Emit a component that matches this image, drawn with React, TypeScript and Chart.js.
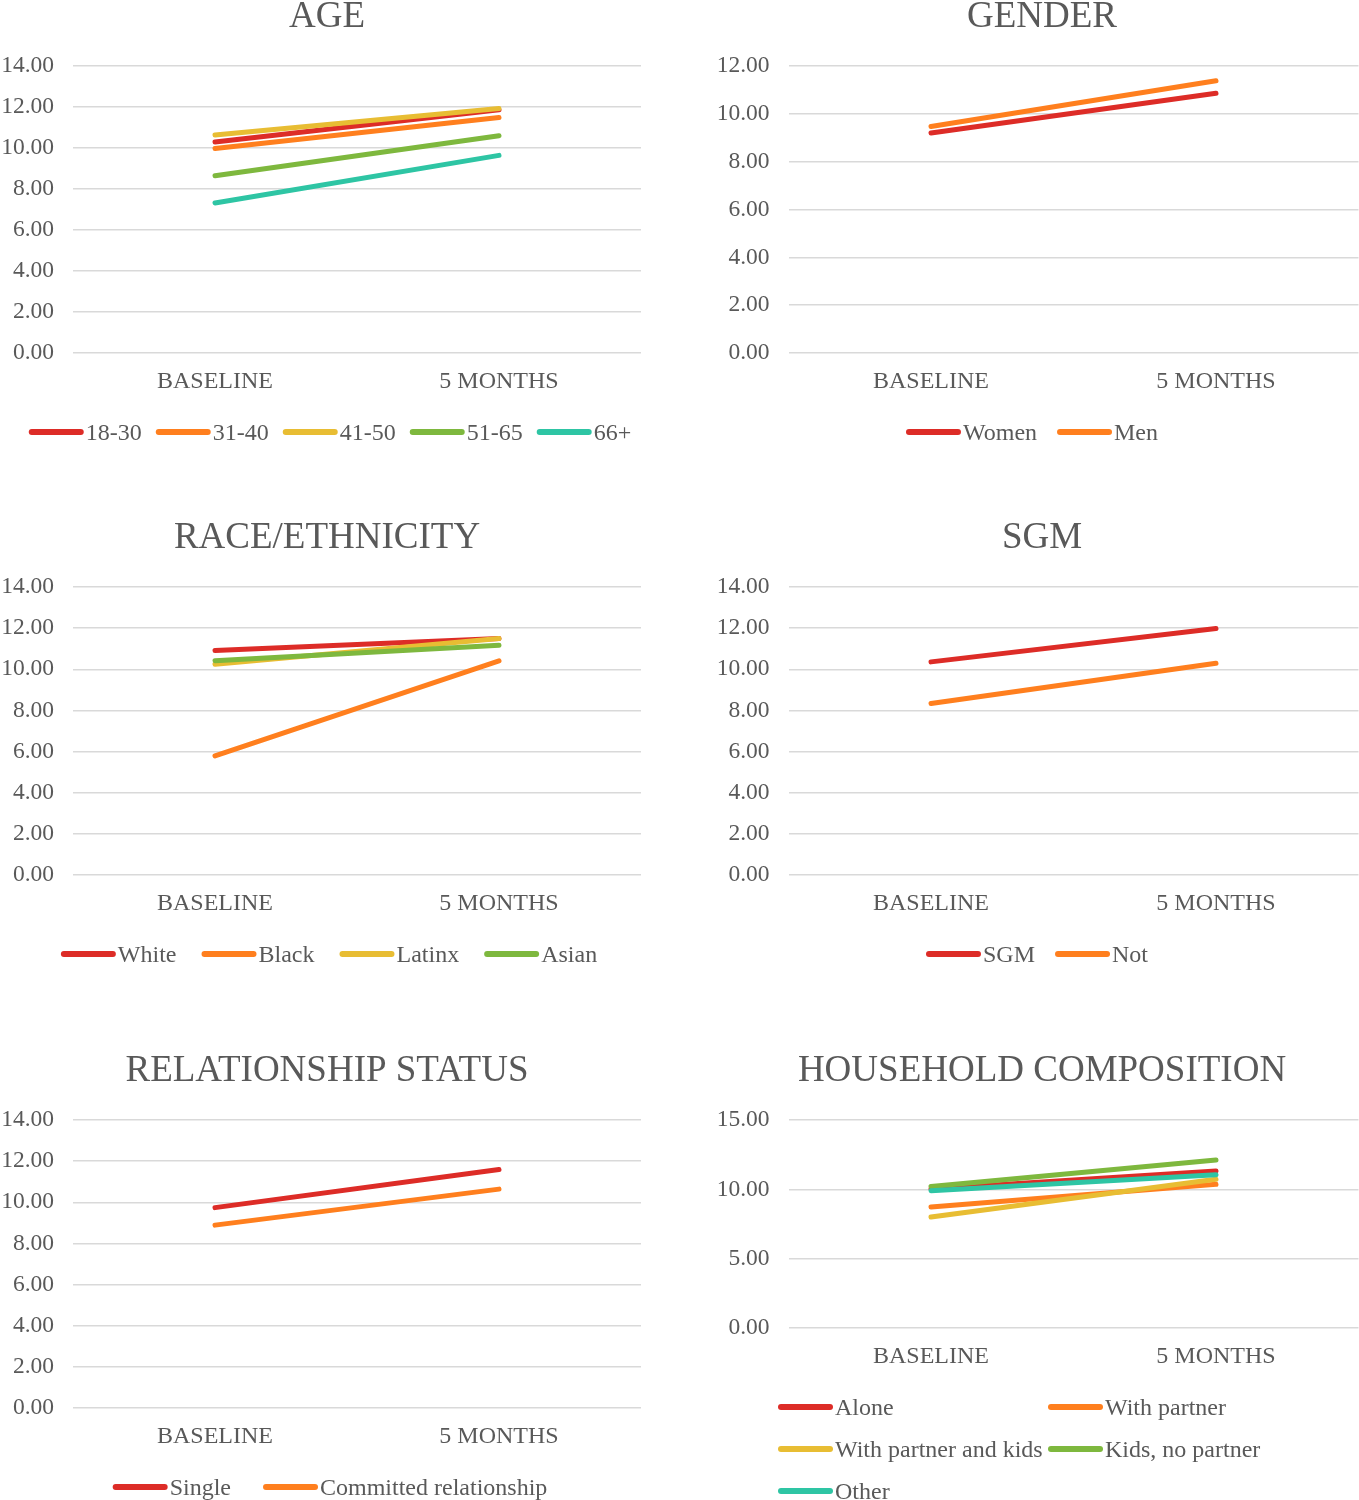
import React, { useEffect, useRef } from "react";
import { Chart, registerables } from "chart.js";

Chart.register(...registerables);

// ---------- data ----------
const periods = ["BASELINE", "5 MONTHS"];

const ageLabels = ["18-30", "31-40", "41-50", "51-65", "66+"];
const age18to30 = [10.29, 11.87];
const age31to40 = [9.98, 11.49];
const age41to50 = [10.63, 11.93];
const age51to65 = [8.65, 10.6];
const age66plus = [7.32, 9.64];

const genderLabels = ["Women", "Men"];
const women = [9.2, 10.86];
const men = [9.47, 11.38];

const raceLabels = ["White", "Black", "Latinx", "Asian"];
const white = [10.91, 11.5];
const black = [5.79, 10.41];
const latinx = [10.24, 11.5];
const asian = [10.42, 11.17];

const sgmLabels = ["SGM", "Not"];
const sgm = [10.36, 11.98];
const notSgm = [8.34, 10.29];

const relLabels = ["Single", "Committed relationship"];
const single = [9.74, 11.59];
const committed = [8.89, 10.64];

const houseLabels = ["Alone", "With partner", "With partner and kids", "Kids, no partner", "Other"];
const alone = [10.02, 11.32];
const withPartner = [8.72, 10.36];
const withPartnerKids = [8.0, 10.73];
const kidsNoPartner = [10.2, 12.11];
const otherHouse = [9.9, 11.06];

// ---------- styles ----------
const PALETTE = ["#DD2C27", "#FF7F1E", "#E8BD33", "#7EB83E", "#2EC5A4"];
const TEXT = "#595959";
const GRID = "#D9D9D9";
const FONT = "'Times New Roman', 'Liberation Serif', serif";

type Panel = {
  title: string;
  names: string[];
  series: number[][];
  yMax: number;
  yStep: number;
  left: number;
  top: number;
  width: number;
  height: number;
  plotBottom: number;
  padRight: number;
  yAxisWidth: number;
  titleX: number;
  legendCx: number;
  legendGap: number;
  legendGrid?: { x: number; colW: number; cols: number };
};

const panels: Panel[] = [
  { title: "AGE", names: ageLabels, series: [age18to30, age31to40, age41to50, age51to65, age66plus], yMax: 14, yStep: 2,
    left: 0, top: 0, width: 656, height: 500, plotBottom: 353, padRight: 15, yAxisWidth: 73, titleX: 327, legendCx: 330, legendGap: 14 },
  { title: "GENDER", names: genderLabels, series: [women, men], yMax: 12, yStep: 2,
    left: 715, top: 0, width: 656, height: 500, plotBottom: 353, padRight: 12.5, yAxisWidth: 73.5, titleX: 327, legendCx: 317, legendGap: 20 },
  { title: "RACE/ETHNICITY", names: raceLabels, series: [white, black, latinx, asian], yMax: 14, yStep: 2,
    left: 0, top: 521, width: 656, height: 500, plotBottom: 354, padRight: 15, yAxisWidth: 73, titleX: 327, legendCx: 329, legendGap: 25 },
  { title: "SGM", names: sgmLabels, series: [sgm, notSgm], yMax: 14, yStep: 2,
    left: 715, top: 521, width: 656, height: 500, plotBottom: 354, padRight: 12.5, yAxisWidth: 73.5, titleX: 327, legendCx: 322, legendGap: 20 },
  { title: "RELATIONSHIP STATUS", names: relLabels, series: [single, committed], yMax: 14, yStep: 2,
    left: 0, top: 1054, width: 656, height: 446, plotBottom: 354, padRight: 15, yAxisWidth: 73, titleX: 327, legendCx: 330, legendGap: 32 },
  { title: "HOUSEHOLD COMPOSITION", names: houseLabels, series: [alone, withPartner, withPartnerKids, kidsNoPartner, otherHouse], yMax: 15, yStep: 5,
    left: 715, top: 1054, width: 656, height: 446, plotBottom: 274, padRight: 12.5, yAxisWidth: 73.5, titleX: 327, legendCx: 322, legendGap: 14,
    legendGrid: { x: 63, colW: 270, cols: 2 } },
];

const LEGEND_LINE = 55;
const LEGEND_GAP = 2;
const LEGEND_ROW_H = 42;

const decorPlugin = {
  id: "panelDecor",
  afterDraw(chart: any, _args: any, opts: any) {
    const ctx = chart.ctx as CanvasRenderingContext2D;
    const p: Panel = opts.panel;
    ctx.save();
    ctx.fillStyle = TEXT;
    ctx.font = `37px ${FONT}`;
    ctx.textAlign = "center";
    ctx.textBaseline = "alphabetic";
    ctx.fillText(p.title, p.titleX, 26.5);

    ctx.font = `24px ${FONT}`;
    ctx.textAlign = "left";
    const yRow0 = chart.chartArea.bottom + 79;
    const widths = p.names.map((n) => LEGEND_LINE + LEGEND_GAP + ctx.measureText(n).width);
    const drawItem = (i: number, x: number, y: number) => {
      ctx.strokeStyle = PALETTE[i];
      ctx.lineWidth = 6;
      ctx.lineCap = "round";
      ctx.beginPath();
      ctx.moveTo(x + 3, y);
      ctx.lineTo(x + LEGEND_LINE - 3, y);
      ctx.stroke();
      ctx.fillStyle = TEXT;
      ctx.fillText(p.names[i], x + LEGEND_LINE + LEGEND_GAP, y + 8);
    };
    if (p.legendGrid) {
      const g = p.legendGrid;
      p.names.forEach((_, i) => {
        const col = i % g.cols;
        const row = Math.floor(i / g.cols);
        drawItem(i, g.x + col * g.colW, yRow0 + row * LEGEND_ROW_H);
      });
    } else {
      const total = widths.reduce((a, b) => a + b, 0) + p.legendGap * (widths.length - 1);
      let x = p.legendCx - total / 2;
      p.names.forEach((_, i) => {
        drawItem(i, x, yRow0);
        x += widths[i] + p.legendGap;
      });
    }
    ctx.restore();
  },
};

function PanelChart({ p }: { p: Panel }) {
  const ref = useRef<HTMLCanvasElement | null>(null);
  useEffect(() => {
    if (!ref.current) return;
    const n = p.series.length;
    const xAxisH = 40;
    const chart = new Chart(ref.current, {
      type: "line",
      data: {
        labels: periods,
        datasets: p.series.map((s, i) => ({
          label: p.names[i],
          data: s,
          borderColor: PALETTE[i],
          backgroundColor: PALETTE[i],
          borderWidth: 5,
          borderCapStyle: "round" as const,
          pointRadius: 0,
          pointHoverRadius: 0,
          tension: 0,
          fill: false,
          order: n - i,
        })),
      },
      options: {
        responsive: false,
        animation: false,
        devicePixelRatio: 1,
        layout: {
          padding: { top: 66, left: 0, right: p.padRight, bottom: p.height - p.plotBottom - xAxisH },
        },
        plugins: {
          legend: { display: false },
          title: { display: false },
          tooltip: { enabled: false },
          panelDecor: { panel: p },
        } as any,
        scales: {
          x: {
            offset: true,
            grid: { display: false, drawTicks: false },
            border: { display: false },
            ticks: { color: TEXT, font: { family: FONT, size: 24 }, padding: 14 },
            afterFit: (scale: any) => { scale.height = xAxisH; },
          },
          y: {
            min: 0,
            max: p.yMax,
            grid: { color: GRID, lineWidth: 1.5, drawTicks: false },
            border: { display: false },
            ticks: {
              stepSize: p.yStep,
              color: TEXT,
              font: { family: FONT, size: 23.5 },
              padding: 19,
              callback: (v: any) => Number(v).toFixed(2),
            },
            afterFit: (scale: any) => { scale.width = p.yAxisWidth; },
          },
        },
      },
      plugins: [decorPlugin],
    });
    return () => chart.destroy();
  }, [p]);
  return (
    <canvas
      ref={ref}
      width={p.width}
      height={p.height}
      style={{ position: "absolute", left: p.left, top: p.top, width: p.width, height: p.height }}
    />
  );
}

export default function App() {
  return (
    <div style={{ position: "absolute", left: 0, top: 0, width: 1359, height: 1500, overflow: "hidden", background: "#fff" }}>
      {panels.map((p) => (
        <PanelChart key={p.title} p={p} />
      ))}
    </div>
  );
}
